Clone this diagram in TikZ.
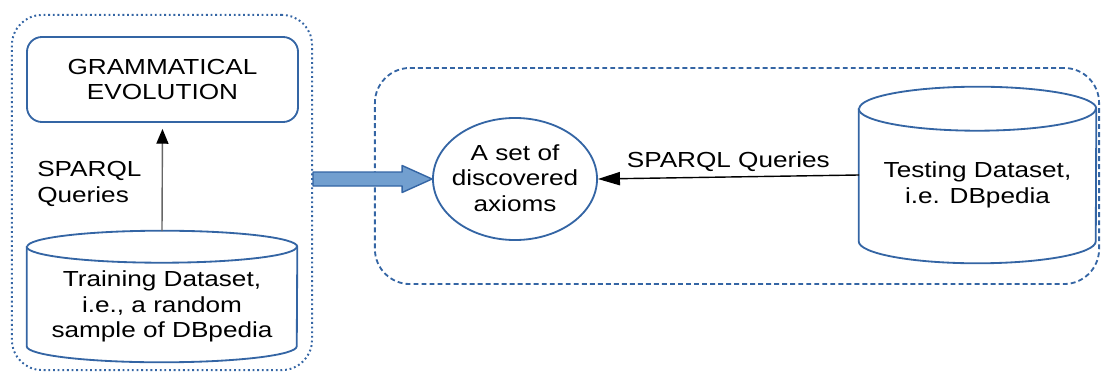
\documentclass[tikz,border=0pt]{standalone}
\usepackage{fontspec}
\setmainfont{Liberation Sans}[FakeStretch=1.2]
\usepackage{tikz}
\usetikzlibrary{calc}
\usetikzlibrary{arrows.meta}
\usetikzlibrary{shapes.geometric}
\definecolor{qqzzbb}{rgb}{0.204,0.396,0.643}
\definecolor{wwccee}{rgb}{0.447,0.624,0.812}
\definecolor{wwwwww}{rgb}{0.4,0.4,0.4}
\tikzstyle{every node}=[font=\fontsize{15.5}{18}\selectfont]
\tikzstyle{dotbox}=[draw=qqzzbb,line width=1.4pt,line cap=butt,dash pattern=on 1.3pt off 2pt,rounded corners=0.75cm]
\tikzstyle{dashbox}=[draw=qqzzbb,line width=1.3pt,line cap=butt,dash pattern=on 3.5pt off 2.2pt,rounded corners=0.875cm]
\tikzstyle{process}=[draw=qqzzbb,line width=1.3pt,rounded corners=0.375cm,align=center]
\tikzstyle{dbline}=[draw=qqzzbb,line width=1.3pt,fill=white]
\tikzstyle{txt}=[align=center,inner sep=0pt]

\begin{document}
\begin{tikzpicture}[line cap=round,line join=round,x=0.025cm,y=0.025cm]
    \useasboundingbox (0,0) rectangle (1102,376);
    % groups
    \node[dotbox,minimum width=7.5cm,minimum height=8.875cm] (leftbox) at (162,183.5) {};
    \node[dashbox,minimum width=18.1cm,minimum height=5.4cm] (rightbox) at (737,200) {};
    % left side
    \node[process,minimum width=6.775cm,minimum height=2.125cm] (evolution) at (162.5,296.5) {GRAMMATICAL\\EVOLUTION};
    \node[inner sep=0pt,minimum width=6.75cm,minimum height=2.475cm] (train) at (162,79.5) {};
    \draw[dbline] (train.north west) -- (train.south west) arc (180:360:3.375cm and 0.4cm)
        -- (train.north east) arc (0:180:3.375cm and 0.4cm) -- cycle;
    \draw[dbline] (train.north west) arc (180:360:3.375cm and 0.4cm);
    \coordinate (train-top) at ($(train.north)+(0,16)$);
    \node[txt] (train-txt) at ($(train.center)+(0,-10)$) {Training Dataset,\\i.e., a random\\sample of DBpedia};
    \node[align=left,anchor=west,inner sep=0pt] (queries-up) at (37,192) {SPARQL\\Queries};
    \draw[wwwwww,line width=1pt,-{Triangle[length=0.37cm,width=0.3cm,color=black]},shorten >=0.15cm] (train-top) -- (evolution.south);
    % right side
    \node[ellipse,draw=qqzzbb,line width=1.3pt,minimum width=4.1cm,minimum height=3.05cm,inner sep=0pt] (axioms) at (515,197) {};
    \node[txt] (axioms-txt) at ($(axioms.center)+(0,1)$) {A set of\\discovered\\axioms};
    \node[inner sep=0pt,minimum width=5.925cm,minimum height=3.3cm] (test) at (977.5,201) {};
    \draw[dbline] (test.north west) -- (test.south west) arc (180:360:2.9625cm and 0.55cm)
        -- (test.north east) arc (0:180:2.9625cm and 0.55cm) -- cycle;
    \draw[dbline] (test.north west) arc (180:360:2.9625cm and 0.55cm);
    \node[txt] (test-txt) at ($(test.center)+(0,-10)$) {Testing Dataset,\\i.e. DBpedia};
    \draw[black,line width=1pt,-{Triangle[length=0.55cm,width=0.33cm]}] (test.west) -- (axioms.east) node[midway,above] {SPARQL Queries};
    % big arrow between the groups
    \draw[qqzzbb,fill=wwccee,line width=1pt] ($(leftbox.east |- axioms.west)+(0,7)$) -- ($(axioms.west)+(-30,7)$)
        -- ($(axioms.west)+(-30,13.5)$) -- (axioms.west) -- ($(axioms.west)+(-30,-13.5)$)
        -- ($(axioms.west)+(-30,-7)$) -- ($(leftbox.east |- axioms.west)+(0,-7)$) -- cycle;
\end{tikzpicture}
\end{document}
